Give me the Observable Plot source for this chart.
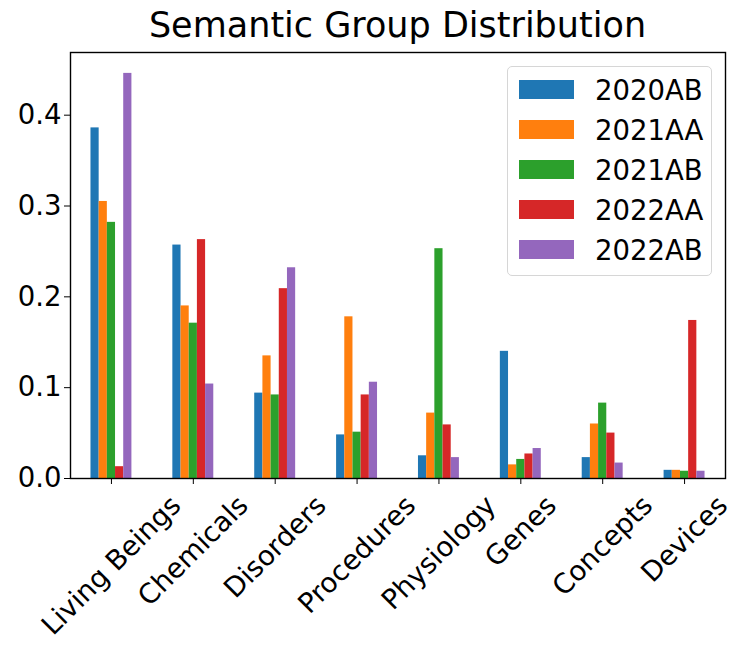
<!DOCTYPE html>
<html>
<head>
<meta charset="utf-8">
<script src="https://cdn.jsdelivr.net/npm/d3@7"></script>
<script src="https://cdn.jsdelivr.net/npm/@observablehq/plot@0.6"></script>
<style>
  html, body { margin: 0; padding: 0; background: white; }
  #wrap { position: relative; width: 747px; height: 654px; font-family: "DejaVu Sans", sans-serif; }
  #title { height: 50px; line-height: 50px; margin-left: 70px; width: 655px; text-align: center; font-size: 35px; color: black; }
  #legend { position: absolute; left: 507px; top: 66px; width: 205px; height: 210px; box-sizing: border-box;
            border: 1.3px solid #d6d6d6; border-radius: 5px; background: rgba(255,255,255,0.8); }
  .row { position: absolute; left: 0; height: 40px; }
  .sw { position: absolute; left: 11px; width: 55px; height: 19px; }
  .lab { position: absolute; left: 87px; font-size: 27.5px; line-height: 40px; color: black; white-space: nowrap; }
</style>
</head>
<body>
<div id="wrap">
  <div id="title">Semantic Group Distribution</div>
  <div id="chart"></div>
  <div id="legend"></div>
</div>
<script>
const categories = ["Living Beings", "Chemicals", "Disorders", "Procedures", "Physiology", "Genes", "Concepts", "Devices"];
const series = ["2020AB", "2021AA", "2021AB", "2022AA", "2022AB"];
const v2020AB = [0.386, 0.257, 0.094, 0.048, 0.025, 0.140, 0.023, 0.009];
const v2021AA = [0.305, 0.190, 0.135, 0.178, 0.072, 0.015, 0.060, 0.009];
const v2021AB = [0.282, 0.171, 0.092, 0.051, 0.253, 0.021, 0.083, 0.008];
const v2022AA = [0.013, 0.263, 0.209, 0.092, 0.059, 0.027, 0.050, 0.174];
const v2022AB = [0.446, 0.104, 0.232, 0.106, 0.023, 0.033, 0.017, 0.008];
const yTicks = [0, 0.1, 0.2, 0.3, 0.4];
const colors = ["#1f77b4", "#ff7f0e", "#2ca02c", "#d62728", "#9467bd"];

const valuesBySeries = [v2020AB, v2021AA, v2021AB, v2022AA, v2022AB];
const rows = [];
series.forEach((s, si) => {
  categories.forEach((c, ci) => {
    rows.push({category: c, ci, series: s, si, value: valuesBySeries[si][ci]});
  });
});

const barW = 0.5 / series.length;
const fs = 27.5;

const chart = Plot.plot({
  width: 747,
  height: 604,
  marginTop: 2,
  marginLeft: 70,
  marginRight: 22,
  marginBottom: 176,
  style: {fontFamily: "DejaVu Sans", fontSize: fs + "px", color: "black", background: "white", overflow: "visible"},
  x: {domain: [-0.5, categories.length - 0.5], ticks: d3.range(categories.length), tickFormat: () => "", tickSize: 6, label: null},
  y: {domain: [0, 0.469], ticks: yTicks, tickFormat: d3.format(".1f"), tickSize: 6, tickPadding: 3, label: null},
  color: {domain: series, range: colors},
  marks: [
    Plot.rectY(rows, {
      x1: d => d.ci - 0.25 + d.si * barW,
      x2: d => d.ci - 0.25 + (d.si + 1) * barW,
      y: "value",
      fill: "series"
    }),
    Plot.frame({stroke: "black", strokeWidth: 1.4}),
    Plot.text(categories, {
      x: (d, i) => i,
      text: d => d,
      frameAnchor: "bottom",
      rotate: -45,
      textAnchor: "middle",
      lineAnchor: "middle",
      fontSize: fs,
      fill: "black"
    })
  ]
});
document.getElementById("chart").appendChild(chart);

// matplotlib-style centred rotated labels: top of the rotated box sits just under the ticks
const H = fs * 1.164, pad = 11;
chart.querySelectorAll('g[aria-label="text"] text').forEach(t => {
  const w = t.getComputedTextLength();
  const shift = pad + (w + H) / (2 * Math.SQRT2);
  const tr = t.getAttribute("transform") || "";
  t.setAttribute("transform", `translate(0,${shift}) ` + tr);
});

// legend
const legend = document.getElementById("legend");
series.forEach((s, i) => {
  const row = document.createElement("div");
  row.className = "row";
  row.style.top = (2.7 + i * 40) + "px";
  row.style.width = "100%";
  const sw = document.createElement("div");
  sw.className = "sw";
  sw.style.background = colors[i];
  sw.style.top = "10.5px";
  const lab = document.createElement("div");
  lab.className = "lab";
  lab.style.top = "0px";
  lab.textContent = s;
  row.appendChild(sw);
  row.appendChild(lab);
  legend.appendChild(row);
});
</script>
</body>
</html>
